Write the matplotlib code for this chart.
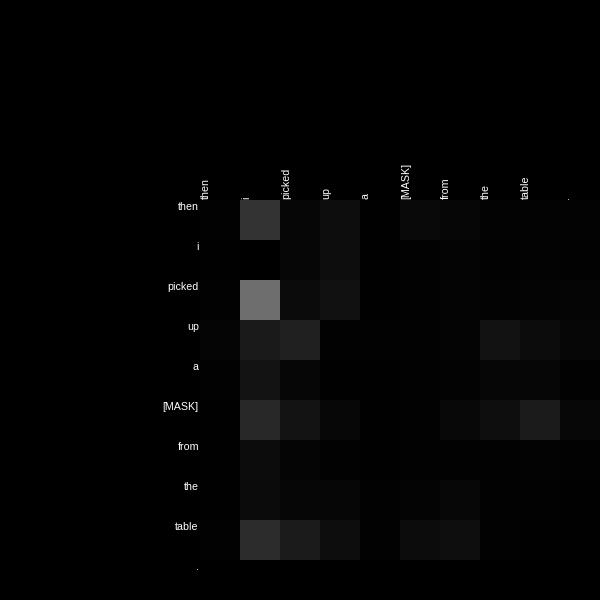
import matplotlib
matplotlib.use("Agg")
import matplotlib.pyplot as plt
import numpy as np

tokens = ["then", "i", "picked", "up", "a", "[MASK]", "from", "the", "table", "."]

# attention weights, rows = query token, cols = key token
attn = np.array([
    [0.008, 0.200, 0.024, 0.051, 0.004, 0.039, 0.027, 0.012, 0.012, 0.012],
    [0.004, 0.000, 0.024, 0.051, 0.004, 0.008, 0.016, 0.008, 0.012, 0.008],
    [0.008, 0.431, 0.043, 0.067, 0.004, 0.008, 0.016, 0.012, 0.016, 0.020],
    [0.020, 0.102, 0.129, 0.008, 0.008, 0.008, 0.016, 0.071, 0.047, 0.024],
    [0.008, 0.075, 0.024, 0.004, 0.004, 0.008, 0.012, 0.024, 0.027, 0.008],
    [0.004, 0.161, 0.078, 0.031, 0.004, 0.008, 0.035, 0.055, 0.106, 0.031],
    [0.004, 0.047, 0.020, 0.008, 0.004, 0.008, 0.008, 0.008, 0.012, 0.008],
    [0.004, 0.043, 0.027, 0.024, 0.008, 0.016, 0.031, 0.008, 0.008, 0.004],
    [0.008, 0.173, 0.106, 0.051, 0.008, 0.047, 0.055, 0.008, 0.004, 0.004],
    [0.002, 0.002, 0.002, 0.002, 0.002, 0.002, 0.002, 0.002, 0.002, 0.002],
])

plt.rcParams['font.family'] = ['Liberation Sans', 'DejaVu Sans']

fig = plt.figure(figsize=(6, 6), dpi=100, facecolor='black')
ax = fig.add_axes([200 / 600, 0, 400 / 600, 400 / 600])
ax.set_facecolor('black')
n = len(tokens)
ax.imshow(attn, cmap='gray', vmin=0, vmax=1, extent=(0, n, n, 0),
          interpolation='nearest', aspect='auto')
ax.set_xlim(0, n)
ax.set_ylim(n, 0)
ax.axis('off')

for i, tok in enumerate(tokens):
    # column labels on top, row labels on the left
    ax.text(i + 0.02, -0.02, tok, rotation=90, ha='left', va='bottom',
            color='white', fontsize=7.7, clip_on=False)
    ax.text(-0.03, i + 0.04, tok, ha='right', va='top',
            color='white', fontsize=7.7, clip_on=False)

fig.savefig('out.png', dpi=100, facecolor='black')
